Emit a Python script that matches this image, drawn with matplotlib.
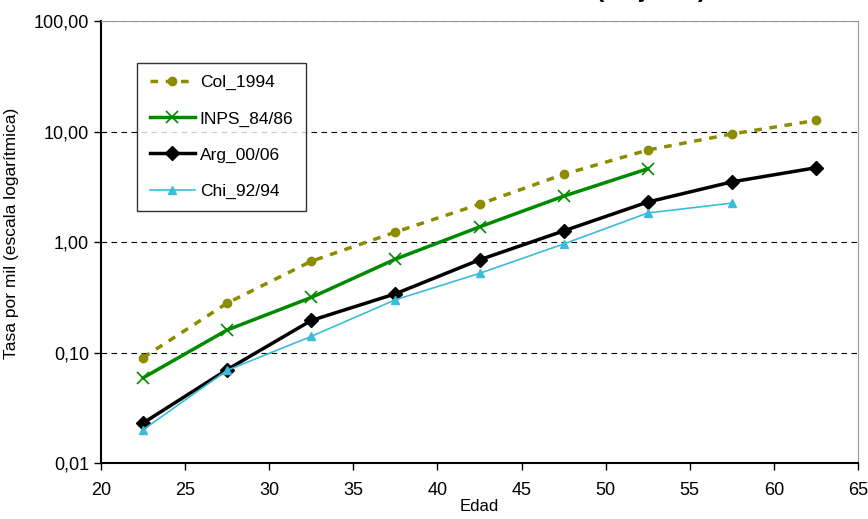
import matplotlib
matplotlib.use("Agg")
import matplotlib.pyplot as plt
from matplotlib.ticker import FixedLocator, FuncFormatter, NullLocator

plt.rcParams['font.family'] = ['Liberation Sans Narrow', 'Liberation Sans', 'DejaVu Sans']

edad = [22.5, 27.5, 32.5, 37.5, 42.5, 47.5, 52.5, 57.5, 62.5]

col_1994 = [0.09, 0.28, 0.67, 1.23, 2.2, 4.1, 6.8, 9.5, 12.6]
inps_8486 = [0.059, 0.16, 0.315, 0.70, 1.37, 2.6, 4.6]
arg_0006 = [0.023, 0.07, 0.195, 0.34, 0.69, 1.26, 2.3, 3.5, 4.7]
chi_9294 = [0.020, 0.069, 0.14, 0.30, 0.52, 0.96, 1.83, 2.25]

y_ticks = [0.01, 0.1, 1, 10, 100]
x_ticks = list(range(20, 70, 5))

fig = plt.figure(figsize=(8.68, 5.19), dpi=100)
ax = fig.add_axes([0.1164, 0.1079, 0.8721, 0.8516])

ax.plot(edad, col_1994, color='#8c8c00', linestyle=(0, (2.2, 2.2)), linewidth=2.5,
        marker='o', markersize=6, label='Col_1994')
ax.plot(edad[:len(inps_8486)], inps_8486, color='#008a00', linewidth=2.5,
        marker='x', markersize=8, markeredgewidth=1.2, label='INPS_84/86')
ax.plot(edad, arg_0006, color='black', linewidth=2.5,
        marker='D', markersize=7, label='Arg_00/06')
ax.plot(edad[:len(chi_9294)], chi_9294, color='#3cbcd8', linewidth=1.2,
        marker='^', markersize=6, label='Chi_92/94')

ax.set_yscale('log')
ax.set_ylim(0.01, 100)
ax.set_xlim(20, 65)
ax.yaxis.set_major_locator(FixedLocator(y_ticks))
ax.yaxis.set_minor_locator(NullLocator())
ax.yaxis.set_major_formatter(FuncFormatter(lambda v, p: f"{v:.2f}".replace('.', ',')))
ax.set_xticks(x_ticks)

for v in [0.1, 1, 10, 100]:
    ax.axhline(v, color='black', linestyle=(0, (5, 4)), linewidth=0.8, zorder=0)

ax.tick_params(axis='both', labelsize=13, direction='out', length=5, width=1)
ax.tick_params(axis='x', pad=9)
for s in ['left', 'bottom']:
    ax.spines[s].set_linewidth(1.5)
ax.spines['top'].set_color('#999999')
ax.spines['right'].set_color('#999999')

ax.set_ylabel('Tasa por mil (escala logarítmica)', fontsize=12.5, labelpad=3)
ax.yaxis.set_label_coords(-0.108, 0.52)
ax.set_xlabel('Edad', fontsize=12, labelpad=0)

leg = ax.legend(loc='upper left', bbox_to_anchor=(0.048, 0.905), fontsize=12.5,
                frameon=True, fancybox=False, edgecolor='black', handlelength=2.6,
                labelspacing=1.2, borderpad=0.7, handletextpad=0.3, borderaxespad=0)
leg.get_frame().set_linewidth(1)

# title sits mostly above the figure, only its lower edge shows
fig.text(0.751, 1.006, '(Mujeres)', fontsize=18, fontweight='bold', ha='center', va='baseline')

plt.savefig('out.png', dpi=100)
